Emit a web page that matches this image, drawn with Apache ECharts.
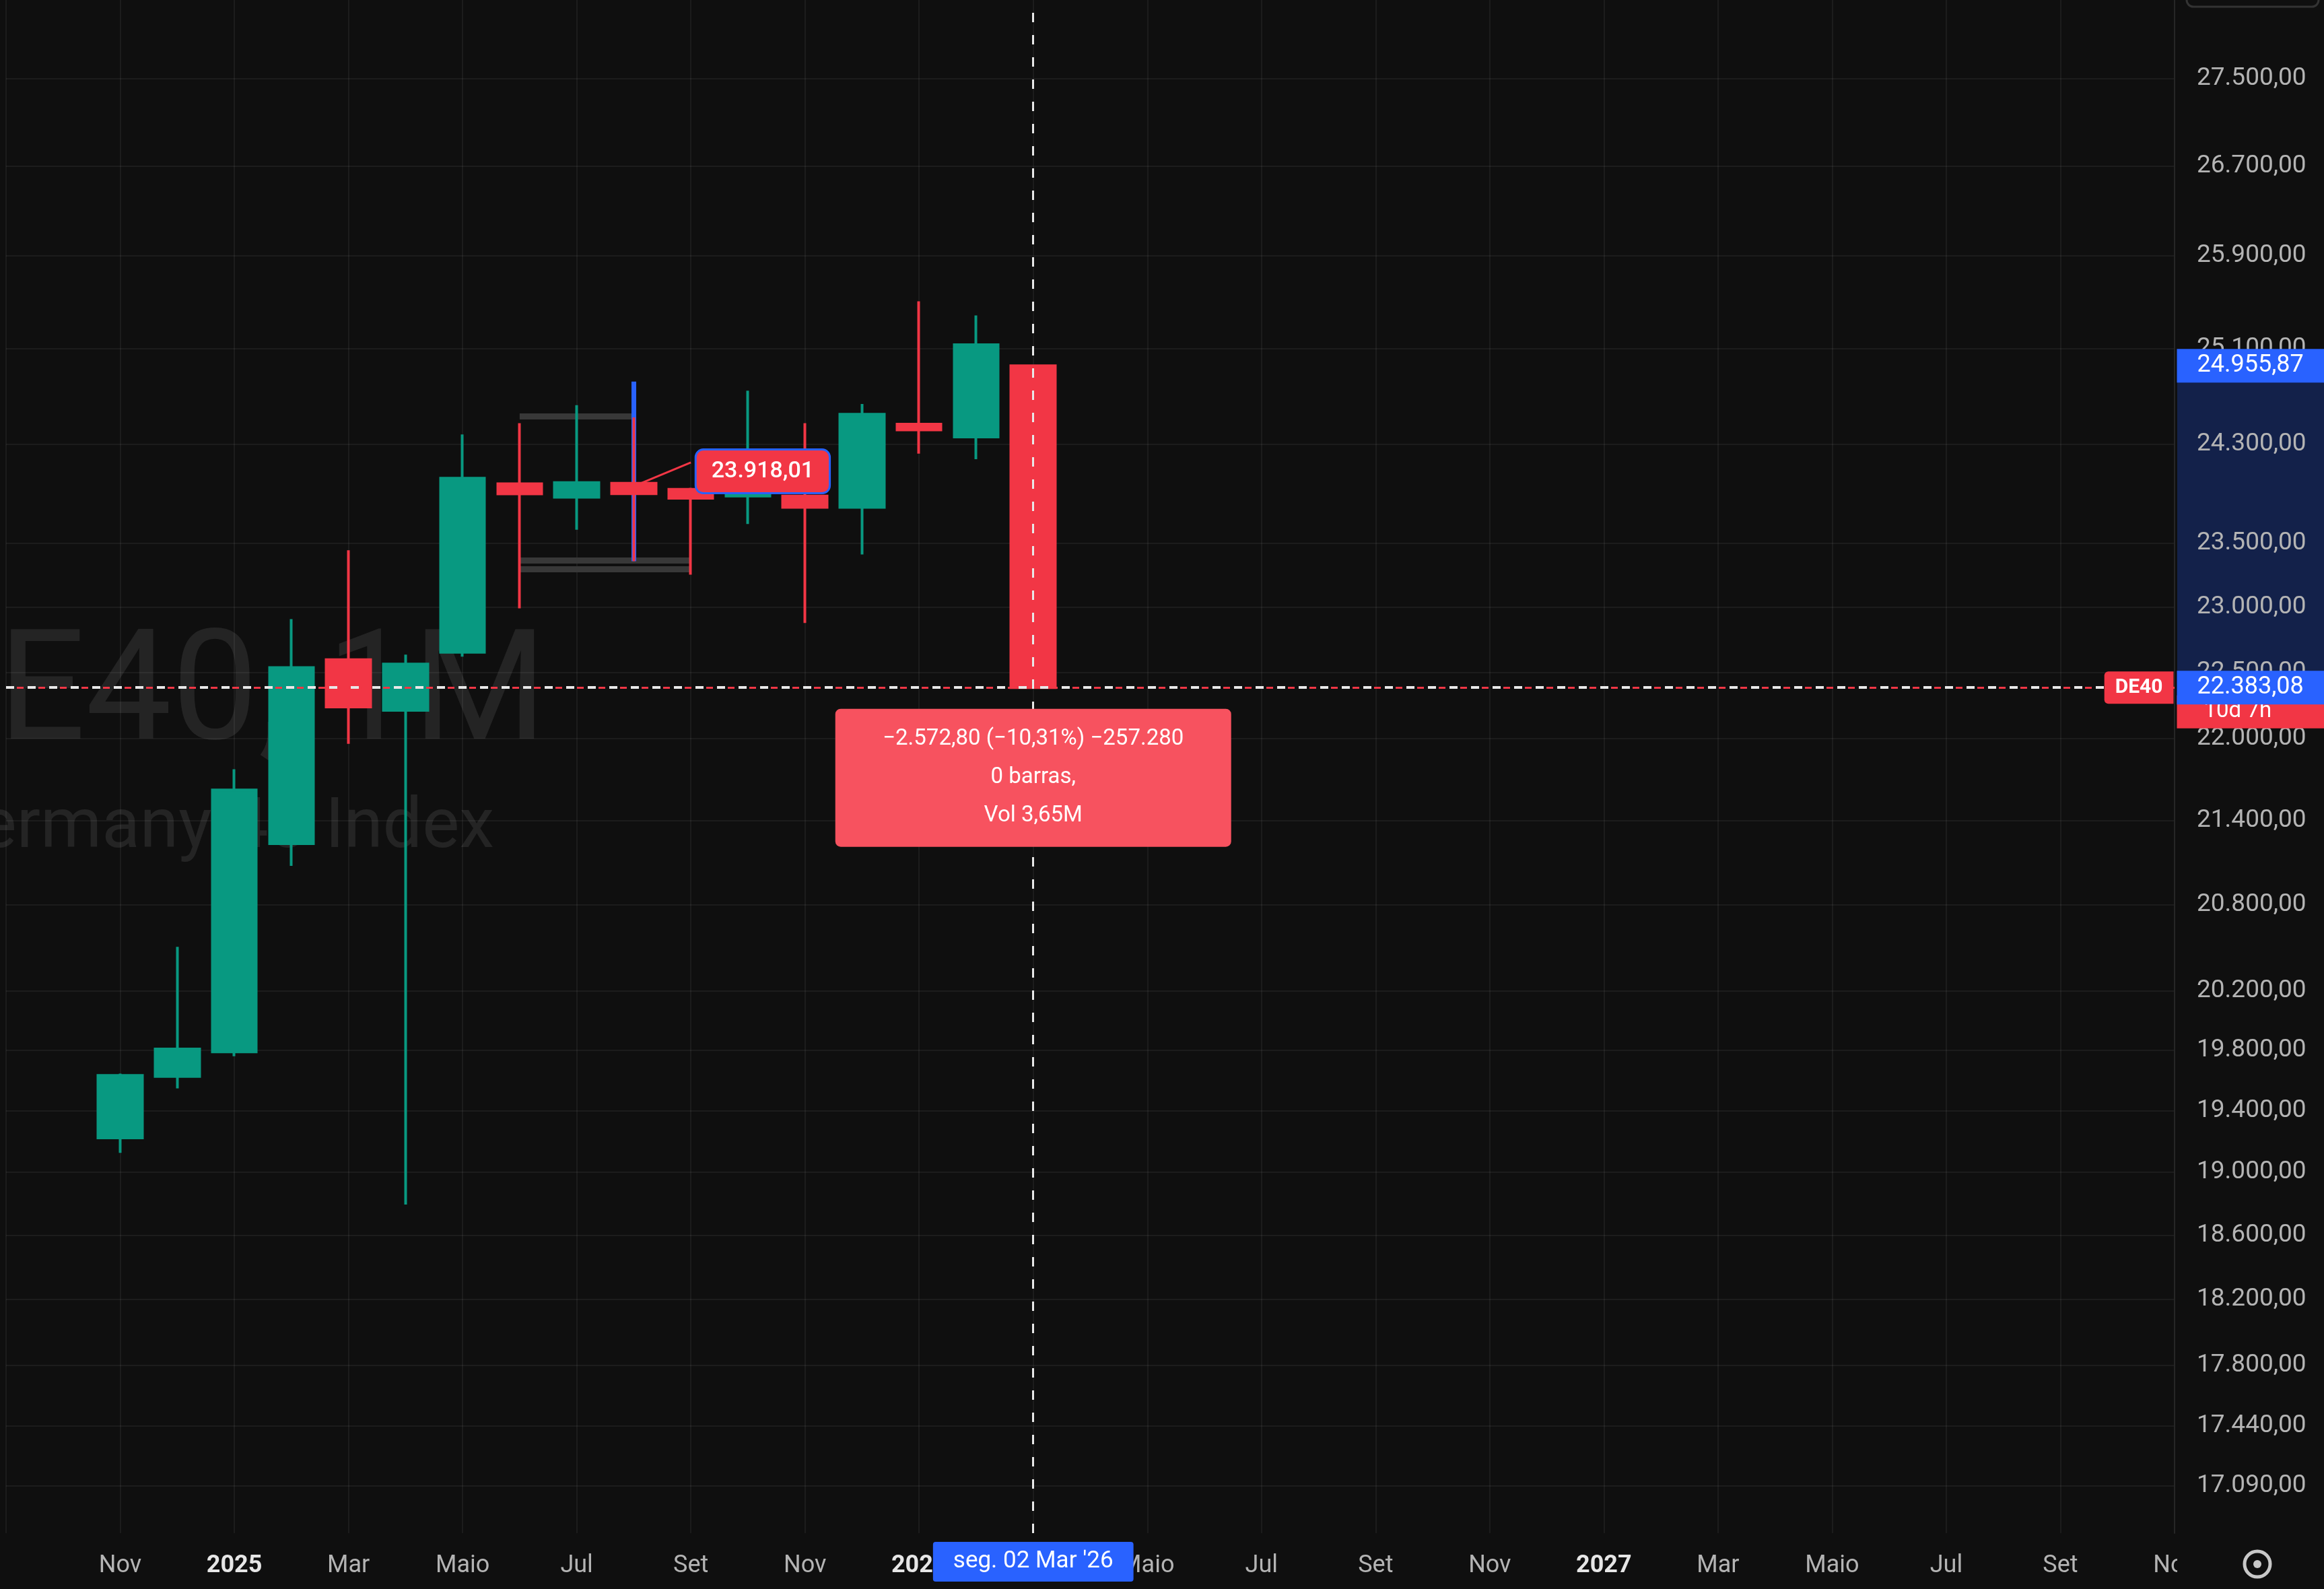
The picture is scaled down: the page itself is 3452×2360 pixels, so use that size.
<!DOCTYPE html>
<html><head><meta charset="utf-8">
<script src="https://cdn.jsdelivr.net/npm/echarts@6/dist/echarts.min.js"></script>
<style>html,body{margin:0;padding:0;background:#0f0f0f;}#c{width:3452px;height:2360px;}</style>
</head><body><div id="c"></div>
<script>
// ---- categories (monthly) ----
const categories = ['2024-09','2024-10','2024-11','2024-12','2025-01','2025-02','2025-03','2025-04','2025-05','2025-06','2025-07','2025-08','2025-09','2025-10','2025-11','2025-12','2026-01','2026-02','2026-03','2026-04','2026-05','2026-06','2026-07','2026-08','2026-09','2026-10','2026-11','2026-12','2027-01','2027-02','2027-03','2027-04','2027-05','2027-06','2027-07','2027-08','2027-09','2027-10','2027-11'];
const monthNames = ['Jan','Fev','Mar','Abr','Maio','Jun','Jul','Ago','Set','Out','Nov','Dez'];

// ---- candle values ----
const candleMonths = ['2024-11','2024-12','2025-01','2025-02','2025-03','2025-04','2025-05','2025-06','2025-07','2025-08','2025-09','2025-10','2025-11','2025-12','2026-01','2026-02','2026-03'];
const opens  = [19222,19625,19789,21233,22595,22211,22652,23979,23870,23983,23935,23880,23880,23789,24467,24362,24955.87];
const closes = [19632,19809,21622,22535,22237,22561,24025,23898,23989,23899,23862,23925,23789,24550,24420,25133,22383.08];
const lows   = [19125,19546,19760,21074,21961,18794,22618,22991,23610,23360,23254,23655,22877,23413,24225,24180,22383.08];
const highs  = [19645,20505,21773,22907,23446,22634,24383,24476,24625,24523,23947,24746,24476,24635,25505,25383,24955.87];

// ---- y axis ----
const yTicks = [27500,26700,25900,25100,24300,23500,23000,22500,22000,21400,20800,20200,19800,19400,19000,18600,18200,17800,17440,17090];
const yMin = 16818, yMax = 28240;

// ---- drawings / annotations ----
const rangeTopLine = {from:'2025-06', to:'2025-08', value:24533};
const rangeBottomLines = [{from:'2025-06', to:'2025-09', value:23368},{from:'2025-06', to:'2025-09', value:23298}];
const blueLine = {month:'2025-08', top:24822, bottom:23360};
const priceTag = {month:'2025-10', pos:24080, value:23918.01};
const tagConnector = [{month:'2025-08', value:23959},{month:'2025-09', value:24152}];
const crossMonth = '2026-03';
const crossPrice = 22383.08;
const rangeStartPrice = 24955.87;
const crossDateLabel = "seg. 02 Mar '26";
const symbolTag = 'DE40';
const countdownText = '10d 7h';
const measureLines = ['−2.572,80 (−10,31%) −257.280','0 barras,','Vol 3,65M'];
const watermark1 = 'DE40, 1M';
const watermark2 = 'Germany 40 Index';

const GREEN = '#089981', RED = '#f23645', BLUE = '#2962ff';
const FONT = 'Roboto';

function fmt(v){
  const s = Math.abs(v).toFixed(2).split('.');
  return (v<0?'−':'') + s[0].replace(/\B(?=(\d{3})+(?!\d))/g,'.') + ',' + s[1];
}

const candleData = categories.map(c => {
  const i = candleMonths.indexOf(c);
  return i < 0 ? ['-','-','-','-'] : [opens[i], closes[i], lows[i], highs[i]];
});
const lastCat = categories[categories.length-1];

const chart = echarts.init(document.getElementById('c'));
chart.setOption({
  animation:false,
  backgroundColor:'#0f0f0f',
  grid:{left:9, right:222, top:0, bottom:83, containLabel:false},
  xAxis:{
    type:'category', data:categories, boundaryGap:false,
    axisLine:{show:false}, axisTick:{show:false},
    axisLabel:{
      interval:(i)=> i%2===0 && i>0,
      margin:31, color:'#b4b4b4', fontSize:36, fontFamily:FONT,
      formatter:(v)=>{ const p=v.split('-'); return p[1]==='01' ? '{y|'+p[0]+'}' : monthNames[+p[1]-1]; },
      rich:{y:{color:'#e6e6e6', fontSize:36, fontWeight:'bold', fontFamily:FONT}}
    },
    splitLine:{show:true, interval:(i)=> i%2===0, lineStyle:{color:'rgba(255,255,255,0.055)', width:2}}
  },
  yAxis:{
    type:'log', logBase:10, min:yMin, max:yMax, position:'right', scale:true,
    axisLine:{show:true, lineStyle:{color:'#262626', width:2}},
    axisTick:{show:false, customValues:yTicks},
    axisLabel:{customValues:yTicks, formatter:(v)=>fmt(v), color:'#b4b4b4', fontSize:37, fontFamily:FONT, margin:33},
    splitLine:{show:true, lineStyle:{color:'rgba(255,255,255,0.055)', width:2}}
  },
  series:[
    { // drawings under candles
      type:'line', data:[], z:1, silent:true,
      markLine:{
        z:1, symbol:['none','none'], silent:true, label:{show:false},
        data:[
          [{coord:[rangeTopLine.from, rangeTopLine.value], lineStyle:{color:'#383838', width:9, type:'solid'}},{coord:[rangeTopLine.to, rangeTopLine.value]}],
          ...rangeBottomLines.map(l=>[{coord:[l.from,l.value], lineStyle:{color:'#383838', width:9, type:'solid'}},{coord:[l.to,l.value]}]),
          [{coord:[blueLine.month, blueLine.top], lineStyle:{color:BLUE, width:7, type:'solid'}},{coord:[blueLine.month, blueLine.bottom]}],
          [{coord:[tagConnector[0].month, tagConnector[0].value], lineStyle:{color:RED, width:3, type:'solid'}},{coord:[tagConnector[1].month, tagConnector[1].value]}]
        ]
      }
    },
    {
      type:'candlestick', z:2, data:candleData, barWidth:66,
      itemStyle:{color:GREEN, color0:RED, borderColor:GREEN, borderColor0:RED, borderWidth:4}
    },
    { // crosshair and price labels
      type:'line', data:[], z:3, silent:true,
      markLine:{
        z:5, symbol:['none','none'], silent:true,
        data:[
          {yAxis:crossPrice, label:{show:false}, lineStyle:{color:RED, width:3, type:[10,6]}},
          {yAxis:crossPrice, label:{show:false}, lineStyle:{color:'#e8e8e8', width:4, type:[12,20]}},
          {xAxis:crossMonth, lineStyle:{color:'#e8e8e8', width:3, type:[14,19]},
            label:{show:true, position:'start', distance:13, formatter:crossDateLabel, color:'#ffffff', fontSize:35, fontFamily:FONT,
              backgroundColor:BLUE, padding:[12,30], borderRadius:4}}
        ]
      },
      markPoint:{
        z:6, symbol:'circle', symbolSize:1, itemStyle:{color:'rgba(0,0,0,0)'}, silent:true,
        data:[
          {coord:[priceTag.month, priceTag.pos], label:{show:true, position:'inside', offset:[22,0], formatter:fmt(priceTag.value),
            color:'#ffffff', fontSize:34, fontWeight:500, fontFamily:FONT, backgroundColor:RED, borderColor:BLUE, borderWidth:3, borderRadius:10, padding:[14,22]}},
          {coord:[lastCat, crossPrice], label:{show:true, position:'left', distance:1, formatter:symbolTag,
            color:'#ffffff', fontSize:30, fontWeight:'bold', fontFamily:FONT, backgroundColor:RED, borderRadius:[6,0,0,6], padding:[9,16]}},
          {coord:[lastCat, crossPrice], label:{show:true, position:'right', distance:3, offset:[0,36], formatter:countdownText,
            color:'#ffffff', fontSize:33, fontFamily:FONT, backgroundColor:RED, width:190, align:'left', padding:[10,0,6,40]}},
          {coord:[lastCat, crossPrice], label:{show:true, position:'right', distance:3, formatter:fmt(crossPrice),
            color:'#ffffff', fontSize:36, fontFamily:FONT, backgroundColor:BLUE, width:190, align:'left', lineHeight:36, padding:[7,0,7,30]}},
          {coord:[lastCat, rangeStartPrice], label:{show:true, position:'right', distance:3, formatter:fmt(rangeStartPrice),
            color:'#ffffff', fontSize:36, fontFamily:FONT, backgroundColor:BLUE, width:190, align:'left', lineHeight:36, padding:[7,0,7,30]}}
        ]
      }
    },
    { // measure tooltip
      type:'line', data:[], z:4, silent:true,
      markPoint:{
        z:7, symbol:'circle', symbolSize:1, itemStyle:{color:'rgba(0,0,0,0)'}, silent:true,
        data:[
          {coord:[crossMonth, crossPrice], label:{show:true, position:'bottom', distance:31, formatter:measureLines.join('\n'),
            color:'#ffffff', fontSize:33, fontFamily:FONT, lineHeight:57, align:'center', width:528,
            backgroundColor:'#f7525f', borderRadius:8, padding:[17,30]}}
        ]
      }
    }
  ]
});

// overlays placed through the axes' own scales
const yOpen = chart.convertToPixel({yAxisIndex:0}, rangeStartPrice);
const yClose = chart.convertToPixel({yAxisIndex:0}, crossPrice);
const gridRight = chart.convertToPixel({xAxisIndex:0}, lastCat);
chart.setOption({
  graphic:{elements:[
    {type:'rect', z:-1, silent:true, shape:{x:gridRight+4, y:yOpen, width:3452-gridRight, height:yClose-yOpen}, style:{fill:'#13214a'}},
    {type:'text', z:0, silent:true, x:812, y:1040, style:{text:watermark1, font:'228px Roboto', fill:'rgba(255,255,255,0.09)', textAlign:'right', textVerticalAlign:'middle'}},
    {type:'text', z:0, silent:true, x:734, y:1232, style:{text:watermark2, font:'104px Roboto', fill:'rgba(255,255,255,0.09)', textAlign:'right', textVerticalAlign:'middle'}},
    {type:'rect', z:10, silent:true, shape:{x:gridRight+4, y:2280, width:3452-gridRight, height:80}, style:{fill:'#0f0f0f'}},
    {type:'circle', z:11, silent:true, shape:{cx:3353, cy:2323, r:19}, style:{fill:'none', stroke:'#c8c8c8', lineWidth:5}},
    {type:'circle', z:11, silent:true, shape:{cx:3353, cy:2323, r:6}, style:{fill:'#c8c8c8'}},
    {type:'rect', z:11, silent:true, shape:{x:3248, y:-40, width:196, height:50, r:10}, style:{fill:'none', stroke:'#333333', lineWidth:3}}
  ]}
});
</script></body></html>
